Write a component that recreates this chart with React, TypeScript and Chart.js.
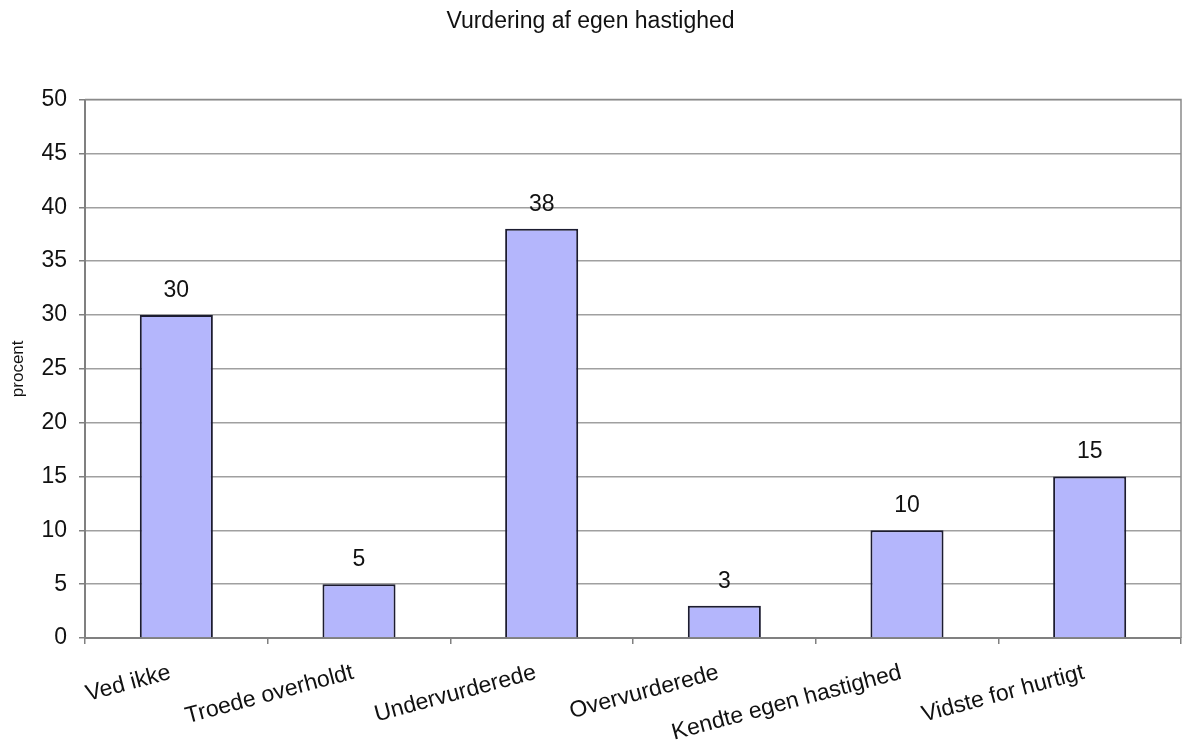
import React, { useEffect, useRef } from "react";
import { Chart, registerables } from "chart.js";

Chart.register(...registerables);

const categories = [
  "Ved ikke",
  "Troede overholdt",
  "Undervurderede",
  "Overvurderede",
  "Kendte egen hastighed",
  "Vidste for hurtigt",
];
const values = [30, 5, 38, 3, 10, 15];
const chartTitle = "Vurdering af egen hastighed";
const yTitle = "procent";
const yMin = 0;
const yMax = 50;
const yStep = 5;

const FONT = "'Liberation Sans', Arial, Helvetica, sans-serif";

const valueLabels = {
  id: "valueLabels",
  afterDatasetsDraw(chart: any) {
    const ctx = chart.ctx;
    const meta = chart.getDatasetMeta(0);
    ctx.save();
    ctx.font = `23px ${FONT}`;
    ctx.fillStyle = "#111";
    ctx.textAlign = "center";
    ctx.textBaseline = "bottom";
    meta.data.forEach((bar: any, i: number) => {
      ctx.fillText(String(chart.data.datasets[0].data[i]), bar.x, bar.y - 13);
    });
    ctx.restore();
  },
};

const frame = {
  id: "frame",
  beforeDatasetsDraw(chart: any) {
    const { ctx, chartArea } = chart;
    ctx.save();
    ctx.strokeStyle = "#8a8a8a";
    ctx.lineWidth = 1.5;
    ctx.beginPath();
    ctx.moveTo(chartArea.left, chartArea.top);
    ctx.lineTo(chartArea.right, chartArea.top);
    ctx.lineTo(chartArea.right, chartArea.bottom);
    ctx.stroke();
    ctx.restore();
  },
};

export default function App() {
  const ref = useRef<HTMLCanvasElement | null>(null);
  useEffect(() => {
    if (!ref.current) return;
    const chart = new Chart(ref.current, {
      type: "bar",
      data: {
        labels: categories,
        datasets: [
          {
            data: values,
            backgroundColor: "#B4B6FC",
            borderColor: "#1c1c30",
            borderWidth: 2,
            borderSkipped: "bottom",
            categoryPercentage: 1,
            barPercentage: 0.4,
          },
        ],
      },
      options: {
        responsive: false,
        animation: false,
        devicePixelRatio: 1,
        layout: { padding: { top: 0, right: 3, bottom: 0, left: 0 } },
        plugins: {
          legend: { display: false },
          tooltip: { enabled: false },
          title: {
            display: true,
            text: chartTitle,
            color: "#111",
            font: { family: FONT, size: 23, weight: "normal" },
            padding: { top: 8, bottom: 64 },
          },
        },
        scales: {
          x: {
            grid: {
              offset: true,
              drawOnChartArea: false,
              drawTicks: true,
              tickLength: 6,
              color: "#808080",
              lineWidth: 1.5,
            },
            border: { display: true, color: "#808080", width: 2 },
            ticks: {
              minRotation: 15,
              maxRotation: 15,
              autoSkip: false,
              padding: 15,
              labelOffset: -6,
              color: "#111",
              font: { family: FONT, size: 23 },
            },
            afterFit(scale: any) {
              scale.height = 106;
            },
          },
          y: {
            min: yMin,
            max: yMax,
            ticks: {
              stepSize: yStep,
              padding: 12,
              color: "#111",
              font: { family: FONT, size: 23 },
            },
            grid: {
              color: "#a0a0a0",
              lineWidth: 1.5,
              tickLength: 6,
              tickColor: "#808080",
            },
            border: { display: true, color: "#808080", width: 2 },
            title: {
              display: true,
              text: yTitle,
              color: "#111",
              font: { family: FONT, size: 17 },
              padding: { top: 8, bottom: 0 },
            },
            afterFit(scale: any) {
              scale.width = 85;
            },
          },
        },
      },
      plugins: [valueLabels, frame],
    });
    return () => chart.destroy();
  }, []);
  return (
    <div style={{ position: "absolute", left: 0, top: 0, width: 1184, height: 744, background: "#fff" }}>
      <canvas ref={ref} width={1184} height={744} />
    </div>
  );
}
